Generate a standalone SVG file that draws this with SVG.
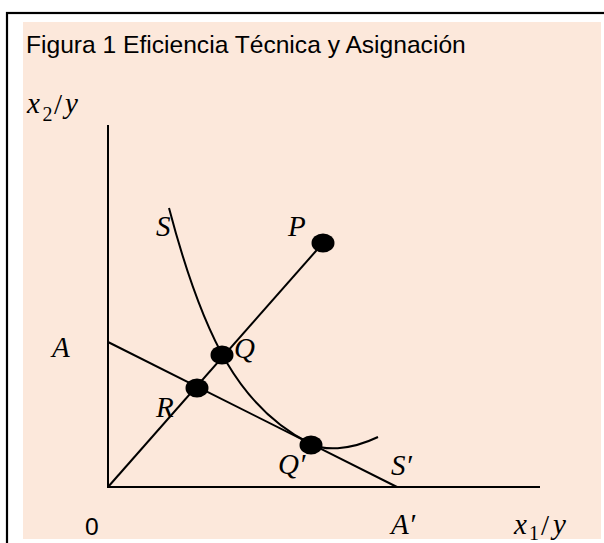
<svg xmlns="http://www.w3.org/2000/svg" width="604" height="543" viewBox="0 0 604 543">
  <style>
    .ln { stroke: #000; stroke-width: 2; fill: none; }
    .dot { fill: #000; }
    .m { font-family: "Liberation Serif", "DejaVu Serif", serif; font-style: italic; font-size: 29px; fill: #000; }
    .up { font-style: normal; }
    .sub { font-family: "Liberation Serif", "DejaVu Serif", serif; font-style: normal; font-size: 20px; fill: #000; }
    .t { font-family: "Liberation Sans", Arial, sans-serif; font-size: 24.6px; fill: #000; }
  </style>
  <rect x="7" y="13" width="640" height="580" fill="#ffffff" stroke="#000" stroke-width="2.2"/>
  <rect x="23" y="22" width="578" height="517" fill="#FCE8DB"/>
  <text class="t" x="26" y="52.5">Figura 1 Eficiencia Técnica y Asignación</text>

  <g id="connectors">
    <line class="ln" x1="108" y1="125" x2="108" y2="488"/>
    <line class="ln" x1="107" y1="487" x2="540" y2="487"/>
    <line class="ln" x1="108" y1="487" x2="323" y2="243"/>
    <line class="ln" x1="108" y1="342" x2="397" y2="487"/>
    <path class="ln" d="M169,208 C204,341 241,409 311,444 C323,450 348,451.4 378,437"/>
  </g>

  <g id="axis-y">
    <text class="m" x="27" y="113">x</text>
    <text class="sub" x="42.5" y="121">2</text>
    <text class="m up" x="54" y="114">/</text>
    <text class="m" x="65" y="113">y</text>
  </g>
  <g id="axis-x">
    <text class="m" x="514" y="534">x</text>
    <text class="sub" x="529" y="540">1</text>
    <text class="m up" x="541" y="535">/</text>
    <text class="m" x="553" y="534">y</text>
  </g>
  <g id="origin"><text class="t" x="85" y="535">0</text></g>
  <g id="node-A"><text class="m" x="52" y="357">A</text></g>
  <g id="node-A-prime"><text class="m" x="391" y="534">A′</text></g>
  <g id="node-S"><text class="m" x="156" y="236">S</text></g>
  <g id="node-S-prime"><text class="m" x="391" y="475">S′</text></g>
  <g id="node-P">
    <ellipse class="dot" cx="323" cy="243" rx="11.5" ry="9.5"/>
    <text class="m" x="288" y="236">P</text>
  </g>
  <g id="node-Q">
    <ellipse class="dot" cx="222" cy="355" rx="11.5" ry="9.5"/>
    <text class="m" x="234" y="358">Q</text>
  </g>
  <g id="node-R">
    <ellipse class="dot" cx="197" cy="388" rx="11.5" ry="9.5"/>
    <text class="m" x="156" y="417">R</text>
  </g>
  <g id="node-Q-prime">
    <ellipse class="dot" cx="311" cy="445" rx="11.5" ry="9.5"/>
    <text class="m" x="278" y="474">Q′</text>
  </g>
</svg>
